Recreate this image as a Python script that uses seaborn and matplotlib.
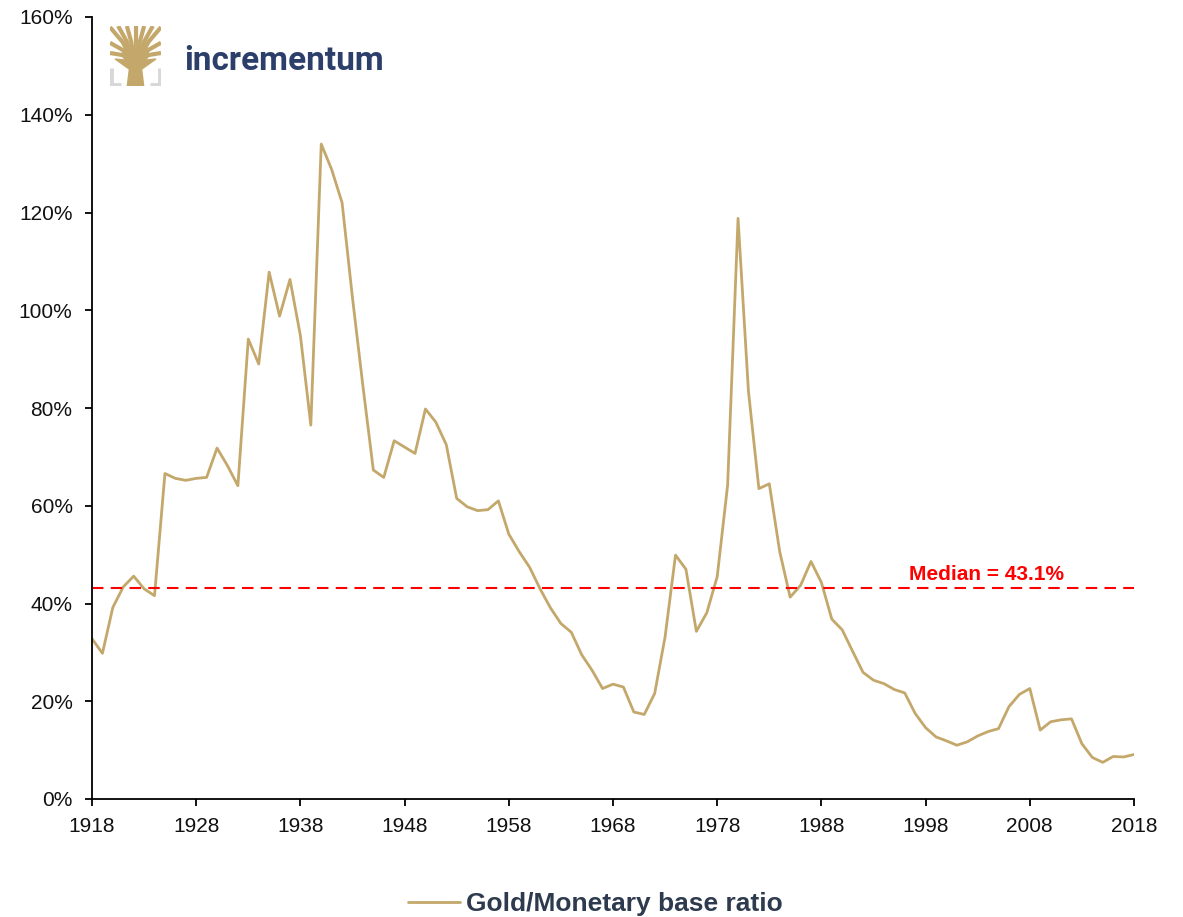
import numpy as np
import pandas as pd
import seaborn as sns
import matplotlib.pyplot as plt
from matplotlib.ticker import FuncFormatter
from matplotlib.patches import Polygon

# data (percent)
years = list(range(1918, 2019))
ratio = [32.8, 29.8, 39.2, 43.4, 45.6, 43.0, 41.6, 66.6, 65.6, 65.2,
         65.6, 65.8, 71.8, 68.2, 64.1, 94.1, 89.0, 107.8, 98.8, 106.3,
         94.8, 76.5, 134.0, 128.8, 122.0, 102.5, 84.5, 67.3, 65.8, 73.3,
         72.0, 70.7, 79.8, 77.1, 72.5, 61.5, 59.8, 59.0, 59.2, 61.0,
         54.2, 50.6, 47.4, 43.0, 39.1, 35.9, 34.1, 29.5, 26.3, 22.6,
         23.5, 22.9, 17.8, 17.3, 21.6, 33.2, 49.9, 47.0, 34.3, 38.1,
         45.5, 64.2, 118.8, 83.4, 63.5, 64.5, 50.6, 41.3, 43.7, 48.6,
         44.3, 36.8, 34.6, 30.2, 25.9, 24.3, 23.6, 22.4, 21.7, 17.5,
         14.6, 12.7, 11.9, 11.0, 11.7, 12.9, 13.8, 14.4, 18.9, 21.4,
         22.6, 14.1, 15.8, 16.2, 16.4, 11.3, 8.5, 7.5, 8.7, 8.6,
         9.1]
median_value = 43.1
series_name = 'Gold/Monetary base ratio'
xticks = list(range(1918, 2019, 10))
yticks = list(range(0, 161, 20))

gold = '#C4A86B'

sns.set_style('ticks')
plt.rcParams['font.family'] = ['Liberation Sans', 'DejaVu Sans']

df = pd.DataFrame({'year': years, 'ratio': ratio})

fig = plt.figure(figsize=(11.83, 9.17), dpi=100)
ax = fig.add_axes([92/1183, 1-799/917, (1134-92)/1183, (799-17)/917])

sns.lineplot(data=df, x='year', y='ratio', color=gold, lw=2, ax=ax,
             label=series_name)
ax.get_legend().remove()

# median line + label
ax.axhline(median_value, color='red', lw=1.5, ls=(0, (5.5, 3.5)))
ax.text(2003.86, 44.8, 'Median = %.1f%%' % median_value, color='red',
        fontsize=15, fontweight='bold', ha='center', va='baseline')

ax.set_xlim(1918, 2018)
ax.set_ylim(0, 160)
ax.set_xticks(xticks)
ax.set_yticks(yticks)
ax.yaxis.set_major_formatter(FuncFormatter(lambda v, p: '%d%%' % v))
ax.set_xlabel('')
ax.set_ylabel('')
ax.tick_params(axis='both', labelsize=15, length=5, width=1.3,
               color='black', labelcolor='#111111')
ax.tick_params(axis='y', pad=9)
ax.tick_params(axis='x', pad=8)
sns.despine(ax=ax)
for s in ['left', 'bottom']:
    ax.spines[s].set_linewidth(1.3)
    ax.spines[s].set_color('black')

# legend at the bottom
handles, labels = ax.get_legend_handles_labels()
leg = fig.legend(handles, labels, loc='center', bbox_to_anchor=(0.503, 0.014),
                 frameon=False, handlelength=2.0, handletextpad=0.2,
                 prop={'size': 19, 'weight': 'bold'})
for t in leg.get_texts():
    t.set_color('#2E3B4E')

# logo: little tree icon + name
lax = fig.add_axes([110/1183, 1-86/917, 51/1183, 60/917])
lax.set_xlim(0, 1)
lax.set_ylim(0, 1)
lax.axis('off')
lax.plot([0.02, 0.02, 0.22], [0.3, 0.02, 0.02], color='#D8D8D8', lw=3.5,
         solid_capstyle='butt')
lax.plot([0.98, 0.98, 0.78], [0.3, 0.02, 0.02], color='#D8D8D8', lw=3.5,
         solid_capstyle='butt')
lax.add_patch(Polygon([(0.34, 0.0), (0.66, 0.0), (0.62, 0.28), (0.9, 0.45),
                       (0.55, 0.42), (0.5, 0.5), (0.45, 0.42), (0.1, 0.45),
                       (0.38, 0.28)],
                      closed=True, color=gold))
for bx, by in [(0.0, 0.98), (0.0, 0.72), (0.0, 0.55), (0.16, 1.0),
               (0.33, 1.0), (0.5, 1.0), (0.67, 1.0), (0.84, 1.0),
               (1.0, 0.98), (1.0, 0.72), (1.0, 0.55)]:
    lax.plot([0.5, (0.5 + bx) / 2, bx], [0.32, (0.32 + by) / 2 + 0.08, by],
             color=gold, lw=3, solid_capstyle='butt')

fig.text(184/1183, 1-70/917, 'incrementum', fontsize=24, fontweight='bold',
         color='#2C3F6B', ha='left', va='baseline',
         family=['Roboto', 'Liberation Sans', 'DejaVu Sans'])

fig.savefig('out.png', dpi=100)
